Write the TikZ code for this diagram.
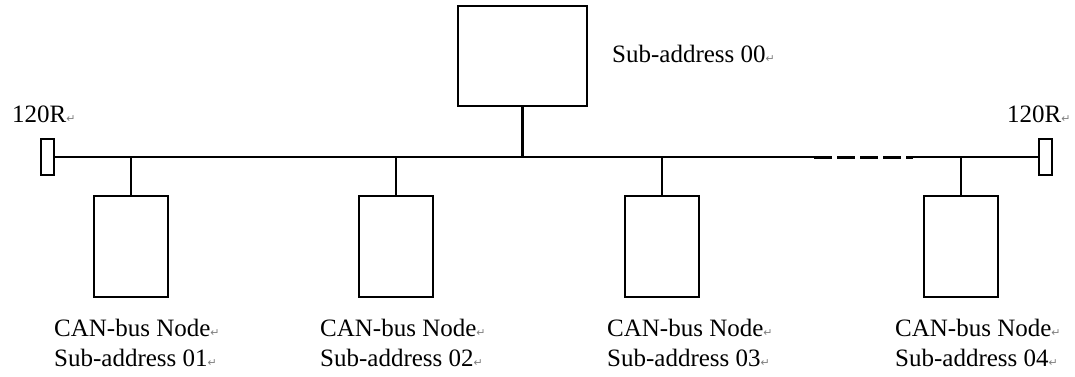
\documentclass[tikz,border=0pt]{standalone}
\usepackage{fontspec}
\setmainfont{Liberation Serif}
\newfontfamily\markfont{DejaVu Sans}
\usetikzlibrary{positioning}
\newcommand{\pmark}{{\markfont\fontsize{11}{11}\selectfont\color{gray}↵}}

\begin{document}
\begin{tikzpicture}[x=1pt, y=-1pt]
	\tikzstyle{unit} = [draw, rectangle, line width=2pt, inner sep=0pt, minimum width=74pt, minimum height=101pt];
	\tikzstyle{term} = [draw, rectangle, line width=1.6pt, inner sep=0pt, minimum width=13pt, minimum height=36pt];
	\tikzstyle{lbl} = [inner sep=0pt, anchor=base west, font={\fontsize{25}{30}\selectfont}];
	\tikzstyle{bus} = [line width=2pt];
	\tikzstyle{gap} = [line width=3pt, dash pattern=on 18pt off 5pt];

	\useasboundingbox (0,0) rectangle (1075,377);

	% terminating resistors
	\node[term] (rl) at (47.5,157) {};
	\node[term] (rr) at (1045.5,157) {};
	\node[lbl] (rlt) at (12,123) {120R\pmark};
	\node[lbl] (rrt) at (1007,122) {120R\pmark};

	% the bus
	\coordinate (dl) at (814,157);
	\coordinate (dr) at (913,157);
	\draw[bus] (rl.east) -- (dl);
	\draw[gap] (dl) -- (dr);
	\draw[bus] (dr) -- (rr.west);

	% master
	\node[unit, minimum width=129pt, minimum height=100pt] (m) at (522.5,56) {};
	\node[lbl] (mt) at (612,63) {Sub-address 00\pmark};
	\draw[bus, line width=2.8pt] (m.south) -- (m.south |- rl.east);

	% slaves
	\def \slaves {131/54,396/320,662/607,961/895}
	\foreach \x/\lx [count=\xi] in \slaves {
		\node[unit] (n\xi) at (\x,246.5) {};
		\draw[bus] (n\xi.north) -- (n\xi.north |- rl.east);
		\node[lbl] (cap\xi) at (\lx,336) {CAN-bus Node\pmark};
		\node[lbl] (sub\xi) at (\lx,366) {Sub-address 0\xi\pmark};
	}
\end{tikzpicture}
\end{document}
